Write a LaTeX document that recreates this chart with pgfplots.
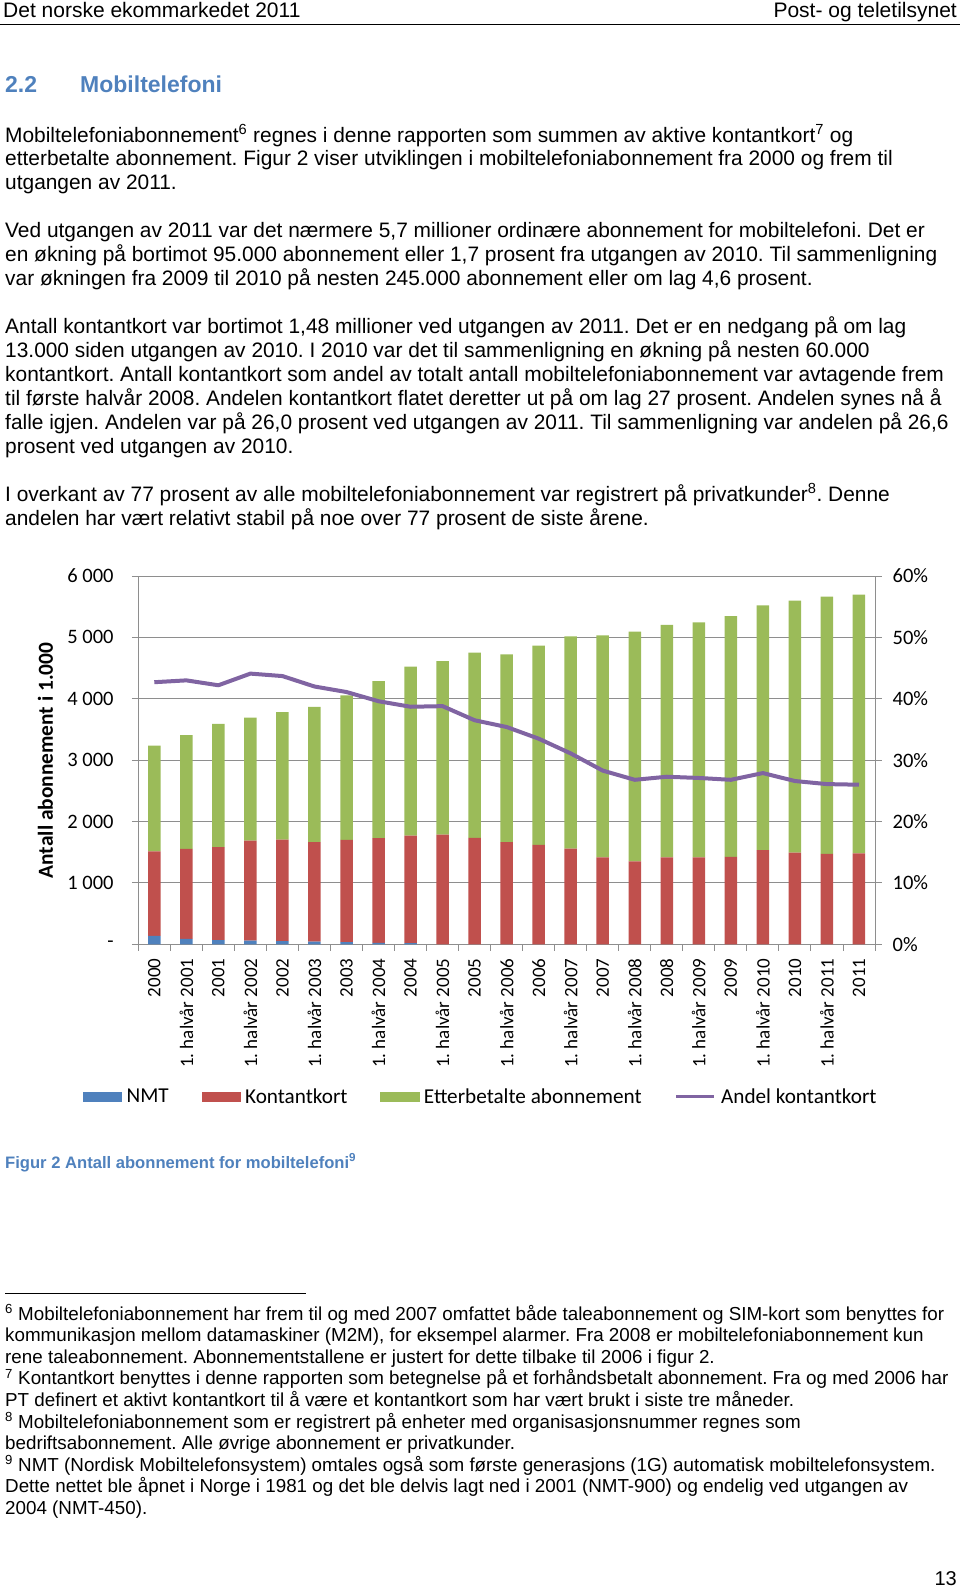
\documentclass[border=0pt]{standalone}
\usepackage{pgfplots}
\pgfplotsset{compat=1.18}
\usepackage{fontspec}
\setmainfont{Liberation Sans}
\newfontfamily\calibri{Carlito}
\definecolor{nmt}{HTML}{4F81BD}
\definecolor{kont}{HTML}{C0504D}
\definecolor{ett}{HTML}{9BBB59}
\definecolor{andel}{HTML}{8064A2}
\definecolor{head}{HTML}{4F81BD}
\definecolor{gridc}{HTML}{8E8E8E}
\newcommand{\bl}[2]{\node[anchor=base west,inner sep=0pt,font=\fontsize{20.9}{24}\selectfont] at (5,-#1) {#2};}
\newcommand{\fl}[2]{\node[anchor=base west,inner sep=0pt,font=\fontsize{18.8}{21}\selectfont] at (5,-#1) {#2};}
\pgfplotstableread{
x nmt kont ett andel
0 136 1380 1722 42.7
1 87 1467 1854 43.0
2 70 1512 2010 42.2
3 60 1630 2005 44.1
4 50 1656 2077 43.7
5 45 1618 2206 42.0
6 35 1666 2353 41.1
7 25 1703 2560 39.6
8 20 1751 2751 38.7
9 0 1788 2826 38.8
10 0 1734 3016 36.5
11 0 1663 3060 35.4
12 0 1619 3245 33.5
13 0 1559 3457 31.1
14 0 1418 3614 28.3
15 0 1353 3739 26.8
16 0 1418 3788 27.3
17 0 1418 3826 27.1
18 0 1424 3924 26.8
19 0 1533 3988 27.9
20 0 1493 4107 26.6
21 0 1473 4190 26.1
22 0 1480 4216 26.0
}\datatable
\begin{document}
\frenchspacing
\begin{tikzpicture}[x=1pt,y=1pt]
\useasboundingbox (0,0) rectangle (960,-1588);
% header
\node[anchor=base west,inner sep=0pt,font=\fontsize{21}{24}\selectfont] at (3,-17) {Det norske ekommarkedet 2011};
\node[anchor=base east,inner sep=0pt,font=\fontsize{21}{24}\selectfont] at (957,-17) {Post- og teletilsynet};
\draw[line width=1pt] (0,-24) -- (960,-24);
\node[anchor=base west,inner sep=0pt,font=\bfseries\fontsize{23}{26}\selectfont,text=head] at (5,-92.7) {2.2};
\node[anchor=base west,inner sep=0pt,font=\bfseries\fontsize{23}{26}\selectfont,text=head] at (80,-92.7) {Mobiltelefoni};
% body
\bl{142}{Mobiltelefoniabonnement\textsuperscript{6} regnes i denne rapporten som summen av aktive kontantkort\textsuperscript{7} og}
\bl{165.95}{etterbetalte abonnement. Figur 2 viser utviklingen i mobiltelefoniabonnement fra 2000 og frem til}
\bl{189.9}{utgangen av 2011.}
\bl{237.8}{Ved utgangen av 2011 var det nærmere 5,7 millioner ordinære abonnement for mobiltelefoni. Det er}
\bl{261.75}{en økning på bortimot 95.000 abonnement eller 1,7 prosent fra utgangen av 2010. Til sammenligning}
\bl{285.7}{var økningen fra 2009 til 2010 på nesten 245.000 abonnement eller om lag 4,6 prosent.}
\bl{333.6}{Antall kontantkort var bortimot 1,48 millioner ved utgangen av 2011. Det er en nedgang på om lag}
\bl{357.55}{13.000 siden utgangen av 2010. I 2010 var det til sammenligning en økning på nesten 60.000}
\bl{381.5}{kontantkort. Antall kontantkort som andel av totalt antall mobiltelefoniabonnement var avtagende frem}
\bl{405.45}{til første halvår 2008. Andelen kontantkort flatet deretter ut på om lag 27 prosent. Andelen synes nå å}
\bl{429.4}{falle igjen. Andelen var på 26,0 prosent ved utgangen av 2011. Til sammenligning var andelen på 26,6}
\bl{453.35}{prosent ved utgangen av 2010.}
\bl{501.25}{I overkant av 77 prosent av alle mobiltelefoniabonnement var registrert på privatkunder\textsuperscript{8}. Denne}
\bl{525.2}{andelen har vært relativt stabil på noe over 77 prosent de siste årene.}
% chart
\begin{axis}[
  at={(138.3pt,-944.3pt)}, anchor=south west,
  width=736.7pt, height=368.3pt, scale only axis,
  xmin=-0.5, xmax=22.5, ymin=0, ymax=6000,
  ybar stacked, bar width=12.5pt,
  xtick={0,...,22},
  xticklabels={2000,1. halvår 2001,2001,1. halvår 2002,2002,1. halvår 2003,2003,1. halvår 2004,2004,1. halvår 2005,2005,1. halvår 2006,2006,1. halvår 2007,2007,1. halvår 2008,2008,1. halvår 2009,2009,1. halvår 2010,2010,1. halvår 2011,2011},
  minor xtick={-0.5,0.5,...,22.5},
  ytick={0,1000,...,6000},
  yticklabels={-\hspace{14pt},1 000,2 000,3 000,4 000,5 000,6 000},
  xtick pos=bottom, ytick pos=left,
  tick align=outside, major tick length=6.5pt, minor tick length=6.5pt,
  major x tick style={draw=none},
  minor x tick style={gridc,line width=0.9pt},
  ymajorgrids, grid style={gridc,line width=0.9pt},
  axis line style={gridc,line width=0.9pt},
  ytick style={gridc,line width=0.9pt},
  yticklabel style={font=\calibri\fontsize{20.5}{24}\selectfont, inner sep=0pt, anchor=east, xshift=-18pt},
  xticklabel style={font=\calibri\fontsize{19}{22}\selectfont, inner sep=0pt, yshift=-7.7pt, rotate=90, anchor=east},
]
\addplot[fill=nmt, draw=none] table[x=x,y=nmt]{\datatable};
\addplot[fill=kont, draw=none] table[x=x,y=kont]{\datatable};
\addplot[fill=ett, draw=none] table[x=x,y=ett]{\datatable};
\end{axis}
\begin{axis}[
  at={(138.3pt,-944.3pt)}, anchor=south west,
  width=736.7pt, height=368.3pt, scale only axis,
  xmin=-0.5, xmax=22.5, ymin=0, ymax=60,
  axis x line=none, axis y line*=right,
  ytick={0,10,...,60},
  yticklabels={0\%,10\%,20\%,30\%,40\%,50\%,60\%},
  tick align=outside, major tick length=6.5pt,
  axis line style={gridc,line width=0.9pt},
  ytick style={gridc,line width=0.9pt},
  yticklabel style={font=\calibri\fontsize{20.5}{24}\selectfont, inner sep=0pt, anchor=west, xshift=11pt},
  legend columns=4,
  legend style={at={(axis description cs:-0.0751,-0.4138)}, anchor=west, draw=none, fill=none, inner sep=0pt,
    font=\calibri\fontsize{21.2}{24}\selectfont,
    nodes={inner xsep=5pt, inner ysep=0pt},
    /tikz/every even column/.append style={column sep=28pt}},
]
\addlegendimage{legend image code/.code={\fill[nmt] (0pt,-4.5pt) rectangle (38pt,4.5pt);}}
\addlegendentry{NMT}
\addlegendimage{legend image code/.code={\fill[kont] (0pt,-4.5pt) rectangle (38pt,4.5pt);}}
\addlegendentry{Kontantkort}
\addlegendimage{legend image code/.code={\fill[ett] (0pt,-4.5pt) rectangle (38pt,4.5pt);}}
\addlegendentry{Etterbetalte abonnement}
\addplot[andel, line width=4pt, line join=round, mark=none,
  legend image code/.code={\draw[andel,line width=3.5pt] (0pt,0pt) -- (38pt,0pt);}] table[x=x,y=andel]{\datatable};
\addlegendentry{Andel kontantkort}
\end{axis}
\node[rotate=90,inner sep=0pt,font=\calibri\bfseries\fontsize{21.4}{24}\selectfont] at (45.5,-760.5) {Antall abonnement i 1.000};
% caption
\node[anchor=base west,inner sep=0pt,font=\bfseries\fontsize{16.6}{19}\selectfont,text=head] at (5,-1168) {Figur 2 Antall abonnement for mobiltelefoni\textsuperscript{9}};
% footnotes
\draw[line width=1pt] (5,-1293.3) -- (306,-1293.3);
\fl{1320}{\textsuperscript{6} Mobiltelefoniabonnement har frem til og med 2007 omfattet både taleabonnement og SIM-kort som benyttes for}
\fl{1341.6}{kommunikasjon mellom datamaskiner (M2M), for eksempel alarmer. Fra 2008 er mobiltelefoniabonnement kun}
\fl{1363.2}{rene taleabonnement. Abonnementstallene er justert for dette tilbake til 2006 i figur 2.}
\fl{1384.8}{\textsuperscript{7} Kontantkort benyttes i denne rapporten som betegnelse på et forhåndsbetalt abonnement. Fra og med 2006 har}
\fl{1406.4}{PT definert et aktivt kontantkort til å være et kontantkort som har vært brukt i siste tre måneder.}
\fl{1428}{\textsuperscript{8} Mobiltelefoniabonnement som er registrert på enheter med organisasjonsnummer regnes som}
\fl{1449.6}{bedriftsabonnement. Alle øvrige abonnement er privatkunder.}
\fl{1471.2}{\textsuperscript{9} NMT (Nordisk Mobiltelefonsystem) omtales også som første generasjons (1G) automatisk mobiltelefonsystem.}
\fl{1492.8}{Dette nettet ble åpnet i Norge i 1981 og det ble delvis lagt ned i 2001 (NMT-900) og endelig ved utgangen av}
\fl{1514.4}{2004 (NMT-450).}
\node[anchor=base east,inner sep=0pt,font=\fontsize{20}{24}\selectfont] at (957,-1585) {13};
\end{tikzpicture}
\end{document}
